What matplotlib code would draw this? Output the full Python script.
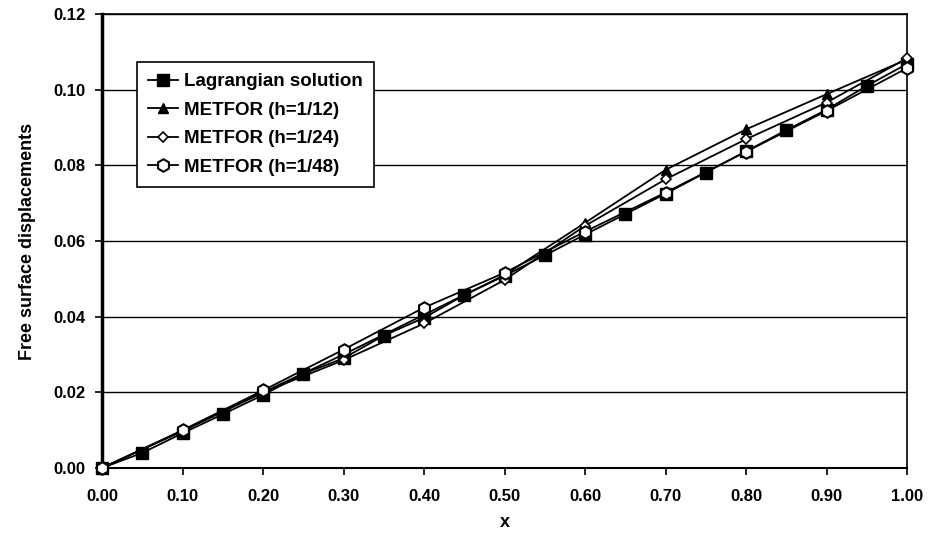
import matplotlib
matplotlib.use("Agg")
import matplotlib.pyplot as plt

plt.rcParams['font.family'] = ['Liberation Sans', 'DejaVu Sans']

# Lagrangian solution, every 0.05
x_lag = [0.00, 0.05, 0.10, 0.15, 0.20, 0.25, 0.30, 0.35, 0.40, 0.45, 0.50,
         0.55, 0.60, 0.65, 0.70, 0.75, 0.80, 0.85, 0.90, 0.95, 1.00]
y_lag = [0.0000, 0.0040, 0.0092, 0.0142, 0.0193, 0.0249, 0.0290, 0.0350,
         0.0397, 0.0457, 0.0508, 0.0562, 0.0617, 0.0671, 0.0725, 0.0781,
         0.0837, 0.0893, 0.0947, 0.1010, 0.1068]

# METFOR results, every 0.1
x_met = [0.0, 0.1, 0.2, 0.3, 0.4, 0.5, 0.6, 0.7, 0.8, 0.9, 1.0]
y_h12 = [0.0000, 0.0098, 0.0200, 0.0300, 0.0405, 0.0510, 0.0648, 0.0788,
         0.0895, 0.0988, 0.1080]
y_h24 = [0.0000, 0.0098, 0.0200, 0.0285, 0.0382, 0.0497, 0.0640, 0.0763,
         0.0869, 0.0966, 0.1083]
y_h48 = [0.0000, 0.0100, 0.0205, 0.0313, 0.0424, 0.0516, 0.0625, 0.0728,
         0.0836, 0.0944, 0.1057]

fig = plt.figure(figsize=(9.3, 5.34), dpi=100)
ax = fig.add_axes([0.1097, 0.1236, 0.8656, 0.8502])

ax.plot(x_lag, y_lag, color='black', lw=1.3, marker='s', ms=8.5,
        mfc='black', mec='black', label='Lagrangian solution', zorder=3,
        clip_on=False)
ax.plot(x_met, y_h12, color='black', lw=1.3, marker='^', ms=7,
        mfc='black', mec='black', label='METFOR (h=1/12)', zorder=4,
        clip_on=False)
ax.plot(x_met, y_h24, color='black', lw=1.3, marker='D', ms=5,
        mfc='white', mec='black', mew=1.2, label='METFOR (h=1/24)', zorder=5,
        clip_on=False)
ax.plot(x_met, y_h48, color='black', lw=1.3, marker='h', ms=9,
        mfc='white', mec='black', mew=1.5, label='METFOR (h=1/48)', zorder=6,
        clip_on=False)

ax.set_xlim(0, 1.0)
ax.set_ylim(0, 0.12)
ax.set_xticks([i / 10 for i in range(11)])
ax.set_xticklabels(['%.2f' % (i / 10) for i in range(11)])
ax.set_yticks([i * 0.02 for i in range(7)])
ax.set_yticklabels(['%.2f' % (i * 0.02) for i in range(7)])
ax.tick_params(direction='out', length=5, width=1.2, labelsize=12, pad=7)
ax.tick_params(axis='x', pad=10)
for lab in ax.get_xticklabels() + ax.get_yticklabels():
    lab.set_fontweight('bold')

ax.yaxis.grid(True, color='black', lw=1.0)
ax.set_axisbelow(True)
ax.spines['left'].set_linewidth(2.5)
ax.spines['bottom'].set_linewidth(1.5)
ax.spines['top'].set_linewidth(1.2)
ax.spines['right'].set_linewidth(1.2)

ax.set_xlabel('x', fontsize=13, fontweight='bold', labelpad=7)
ax.set_ylabel('Free surface displacements', fontsize=13, fontweight='bold',
              labelpad=12)

leg = ax.legend(loc='upper left', bbox_to_anchor=(0.0435, 0.894),
                borderaxespad=0, fancybox=False, edgecolor='black',
                framealpha=1, handlelength=1.6, handletextpad=0.3,
                prop={'weight': 'bold', 'size': 13.5}, labelspacing=0.6,
                borderpad=0.6)
leg.get_frame().set_linewidth(1.2)

fig.savefig('out.png', dpi=100)
